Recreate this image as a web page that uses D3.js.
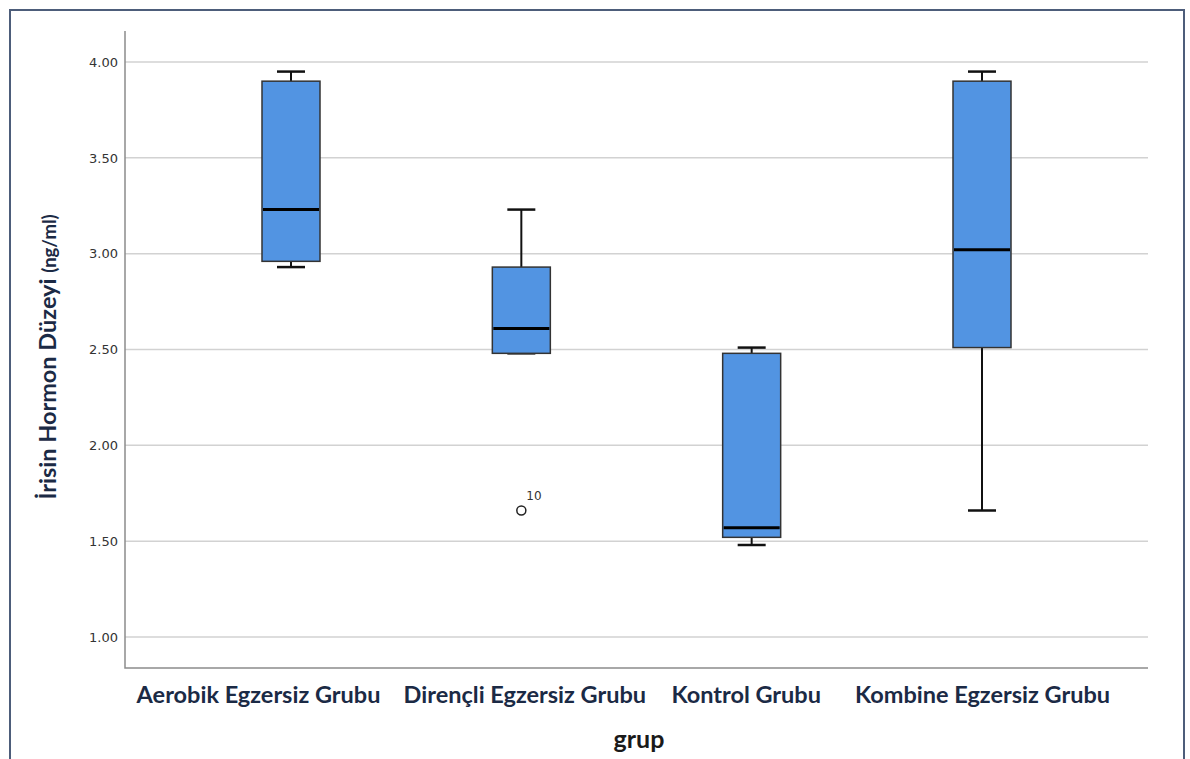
<!DOCTYPE html>
<html>
<head>
<meta charset="utf-8">
<script src="https://cdn.jsdelivr.net/npm/d3@7"></script>
<style>
  html, body { margin: 0; padding: 0; background: #fff; }
  svg { display: block; }
</style>
</head>
<body>
<svg id="chart" width="1190" height="759"></svg>
<script>
// Groups and five-number summaries (ng/ml)
const groups = ["Aerobik Egzersiz Grubu", "Dirençli Egzersiz Grubu", "Kontrol Grubu", "Kombine Egzersiz Grubu"];
const whiskerLow  = [2.93, 2.48, 1.48, 1.66];
const q1          = [2.96, 2.48, 1.52, 2.51];
const median      = [3.23, 2.61, 1.57, 3.02];
const q3          = [3.90, 2.93, 2.48, 3.90];
const whiskerHigh = [3.95, 3.23, 2.51, 3.95];

// Outliers: group, value, case label
const outlierGroup = ["Dirençli Egzersiz Grubu"];
const outlierValue = [1.66];
const outlierLabel = ["10"];

const yTicks = [1.00, 1.50, 2.00, 2.50, 3.00, 3.50, 4.00];

const svg = d3.select("#chart");

// Outer frame
svg.append("path")
  .attr("d", "M10,759 L10,10 L1184,10 L1184,759")
  .attr("fill", "none")
  .attr("stroke", "#4d5d7a")
  .attr("stroke-width", 2);

const plot = { left: 125, right: 1148, top: 31, bottom: 668 };

const y = d3.scaleLinear()
  .domain([1.0, 4.0])
  .range([637, 62]);

const x = d3.scalePoint()
  .domain(groups)
  .range([plot.left + 166, plot.right - 166]);

const boxW = 58;

// Gridlines
svg.append("g")
  .selectAll("line")
  .data(yTicks)
  .join("line")
  .attr("x1", plot.left)
  .attr("x2", plot.right)
  .attr("y1", d => y(d))
  .attr("y2", d => y(d))
  .attr("stroke", "#d2d2d2")
  .attr("stroke-width", 1.5);

// Y axis
const yAxis = svg.append("g")
  .attr("transform", `translate(${plot.left},0)`)
  .call(d3.axisLeft(y).tickValues(yTicks).tickFormat(d3.format(".2f")).tickSize(0).tickPadding(7));
yAxis.select(".domain").remove();
yAxis.selectAll("text")
  .attr("font-family", "DejaVu Sans, sans-serif")
  .attr("font-size", 13)
  .attr("fill", "#333");

// Axis lines
svg.append("path")
  .attr("d", `M${plot.left},${plot.top} L${plot.left},${plot.bottom} L${plot.right},${plot.bottom}`)
  .attr("fill", "none")
  .attr("stroke", "#8c8c8c")
  .attr("stroke-width", 1.5);

// X axis labels (the category labels sit slightly off the box centres)
const labelShift = [-33, 3, -6, 0];
const xAxis = svg.append("g")
  .attr("transform", `translate(0,${plot.bottom})`)
  .call(d3.axisBottom(x).tickSize(0).tickPadding(18));
xAxis.select(".domain").remove();
xAxis.selectAll("text")
  .attr("dx", (d, i) => labelShift[i])
  .attr("font-family", "Lato, 'Open Sans', sans-serif")
  .attr("font-weight", "bold")
  .attr("font-size", 23.5)
  .attr("fill", "#1b2a45");

// Boxes
const data = groups.map((g, i) => ({
  g, lo: whiskerLow[i], q1: q1[i], med: median[i], q3: q3[i], hi: whiskerHigh[i]
}));

const box = svg.append("g").selectAll("g")
  .data(data)
  .join("g")
  .attr("transform", d => `translate(${x(d.g)},0)`);

// Whisker stems
box.append("line")
  .attr("x1", 0).attr("x2", 0)
  .attr("y1", d => y(d.hi)).attr("y2", d => y(d.q3))
  .attr("stroke", "#111").attr("stroke-width", 2);
box.append("line")
  .attr("x1", 0).attr("x2", 0)
  .attr("y1", d => y(d.q1)).attr("y2", d => y(d.lo))
  .attr("stroke", "#111").attr("stroke-width", 2);

// Whisker caps
box.append("line")
  .attr("x1", -14).attr("x2", 14)
  .attr("y1", d => y(d.hi)).attr("y2", d => y(d.hi))
  .attr("stroke", "#111").attr("stroke-width", 2.5);
box.append("line")
  .attr("x1", -14).attr("x2", 14)
  .attr("y1", d => y(d.lo)).attr("y2", d => y(d.lo))
  .attr("stroke", "#111").attr("stroke-width", 2.5);

// Box
box.append("rect")
  .attr("x", -boxW / 2)
  .attr("width", boxW)
  .attr("y", d => y(d.q3))
  .attr("height", d => y(d.q1) - y(d.q3))
  .attr("fill", "#5294e2")
  .attr("stroke", "#333")
  .attr("stroke-width", 1.5);

// Median
box.append("line")
  .attr("x1", -boxW / 2 + 1).attr("x2", boxW / 2 - 1)
  .attr("y1", d => y(d.med)).attr("y2", d => y(d.med))
  .attr("stroke", "#000").attr("stroke-width", 3);

// Outliers
const outliers = outlierGroup.map((g, i) => ({ g, v: outlierValue[i], label: outlierLabel[i] }));
const out = svg.append("g").selectAll("g")
  .data(outliers)
  .join("g")
  .attr("transform", d => `translate(${x(d.g)},${y(d.v)})`);
out.append("circle")
  .attr("r", 4.5)
  .attr("fill", "#fff")
  .attr("stroke", "#222")
  .attr("stroke-width", 1.5);
out.append("text")
  .attr("x", 5)
  .attr("y", -11)
  .attr("font-family", "DejaVu Sans, sans-serif")
  .attr("font-size", 12)
  .attr("fill", "#333")
  .text(d => d.label);

// Axis titles
svg.append("text")
  .attr("x", 639)
  .attr("y", 748)
  .attr("text-anchor", "middle")
  .attr("font-family", "Lato, 'Open Sans', sans-serif")
  .attr("font-weight", "bold")
  .attr("font-size", 25)
  .attr("fill", "#1a1a1a")
  .text("grup");

const yTitle = svg.append("text")
  .attr("transform", "translate(56,357) rotate(-90)")
  .attr("text-anchor", "middle")
  .attr("font-family", "Lato, 'Open Sans', sans-serif")
  .attr("font-weight", "bold")
  .attr("font-size", 23.5)
  .attr("fill", "#1b2a45");
yTitle.append("tspan").text("İrisin Hormon Düzeyi ");
yTitle.append("tspan").attr("font-size", 18.5).text("(ng/ml)");
</script>
</body>
</html>
